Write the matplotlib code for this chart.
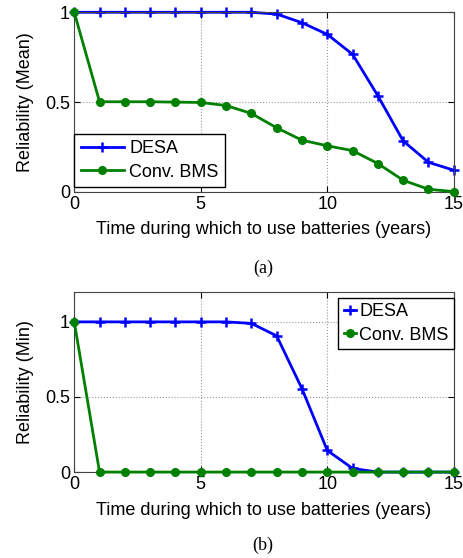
import numpy as np
import matplotlib.pyplot as plt

# Data
years = list(range(16))
desa_mean = [1, 1, 1, 1, 1, 1, 1, 1, 0.99, 0.942, 0.877, 0.766, 0.535, 0.284, 0.165, 0.121]
conv_mean = [1, 0.502, 0.502, 0.502, 0.50, 0.498, 0.481, 0.437, 0.357, 0.288, 0.257, 0.23, 0.158, 0.065, 0.015, 0.002]
desa_min = [1, 1, 1, 1, 1, 1, 1, 0.99, 0.907, 0.555, 0.144, 0.024, 0, 0, 0, 0]
conv_min = [1] + [0] * 15

xticks = [0, 5, 10, 15]
yticks = [0, 0.5, 1]
ytick_labels = ["0", "0.5", "1"]

plt.rcParams['font.family'] = ['Liberation Sans', 'DejaVu Sans']

fig = plt.figure(figsize=(4.64, 5.58), dpi=100)
ax1 = fig.add_axes([0.16, 0.656, 0.818, 0.322])
ax2 = fig.add_axes([0.16, 0.154, 0.818, 0.323])

blue = (0, 0, 1)
green = (0, 0.5, 0)
fs = 13


def style(ax, ylabel, ymax):
    ax.set_xlim(0, 15)
    ax.set_ylim(0, ymax)
    ax.set_xticks(xticks)
    ax.set_yticks(yticks)
    ax.set_yticklabels(ytick_labels)
    ax.tick_params(direction='in', top=True, right=True, labelsize=fs, length=4, pad=3)
    ax.grid(True, linestyle=':', color='#999999', linewidth=0.8)
    ax.set_xlabel("Time during which to use batteries (years)", fontsize=fs, labelpad=6)
    ax.set_ylabel(ylabel, fontsize=fs, labelpad=8)
    for s in ax.spines.values():
        s.set_linewidth(0.8)
        s.set_color('#444444')


ax1.plot(years, desa_mean, color=blue, lw=2, marker='+', ms=6.5, mew=1.8, label='DESA')
ax1.plot(years, conv_mean, color=green, lw=2, marker='o', ms=5.5, label='Conv. BMS', zorder=3)
style(ax1, "Reliability (Mean)", 1)
ax1.legend(loc='lower left', bbox_to_anchor=(0, 0.028), fontsize=fs, fancybox=False,
           edgecolor='black', borderaxespad=0, handlelength=2.4, handletextpad=0.3,
           borderpad=0.35, labelspacing=0.35, framealpha=1)

ax2.plot(years, desa_min, color=blue, lw=2, marker='+', ms=6.5, mew=1.8, label='DESA')
ax2.plot(years, conv_min, color=green, lw=2, marker='o', ms=5.5, label='Conv. BMS', zorder=3)
style(ax2, "Reliability (Min)", 1.2)
ax2.legend(loc='upper right', bbox_to_anchor=(1, 0.967), fontsize=fs, fancybox=False,
           edgecolor='black', borderaxespad=0, handlelength=0.7, handletextpad=0.15,
           borderpad=0.3, labelspacing=0.35, framealpha=1)

for ax in (ax1, ax2):
    for line in ax.get_lines():
        line.set_clip_on(False)

fig.text(0.567, 1 - 268 / 558, "(a)", fontsize=13, family='Liberation Serif', ha='center', va='center')
fig.text(0.567, 1 - 545 / 558, "(b)", fontsize=13, family='Liberation Serif', ha='center', va='center')

fig.savefig("out.png", dpi=100)
